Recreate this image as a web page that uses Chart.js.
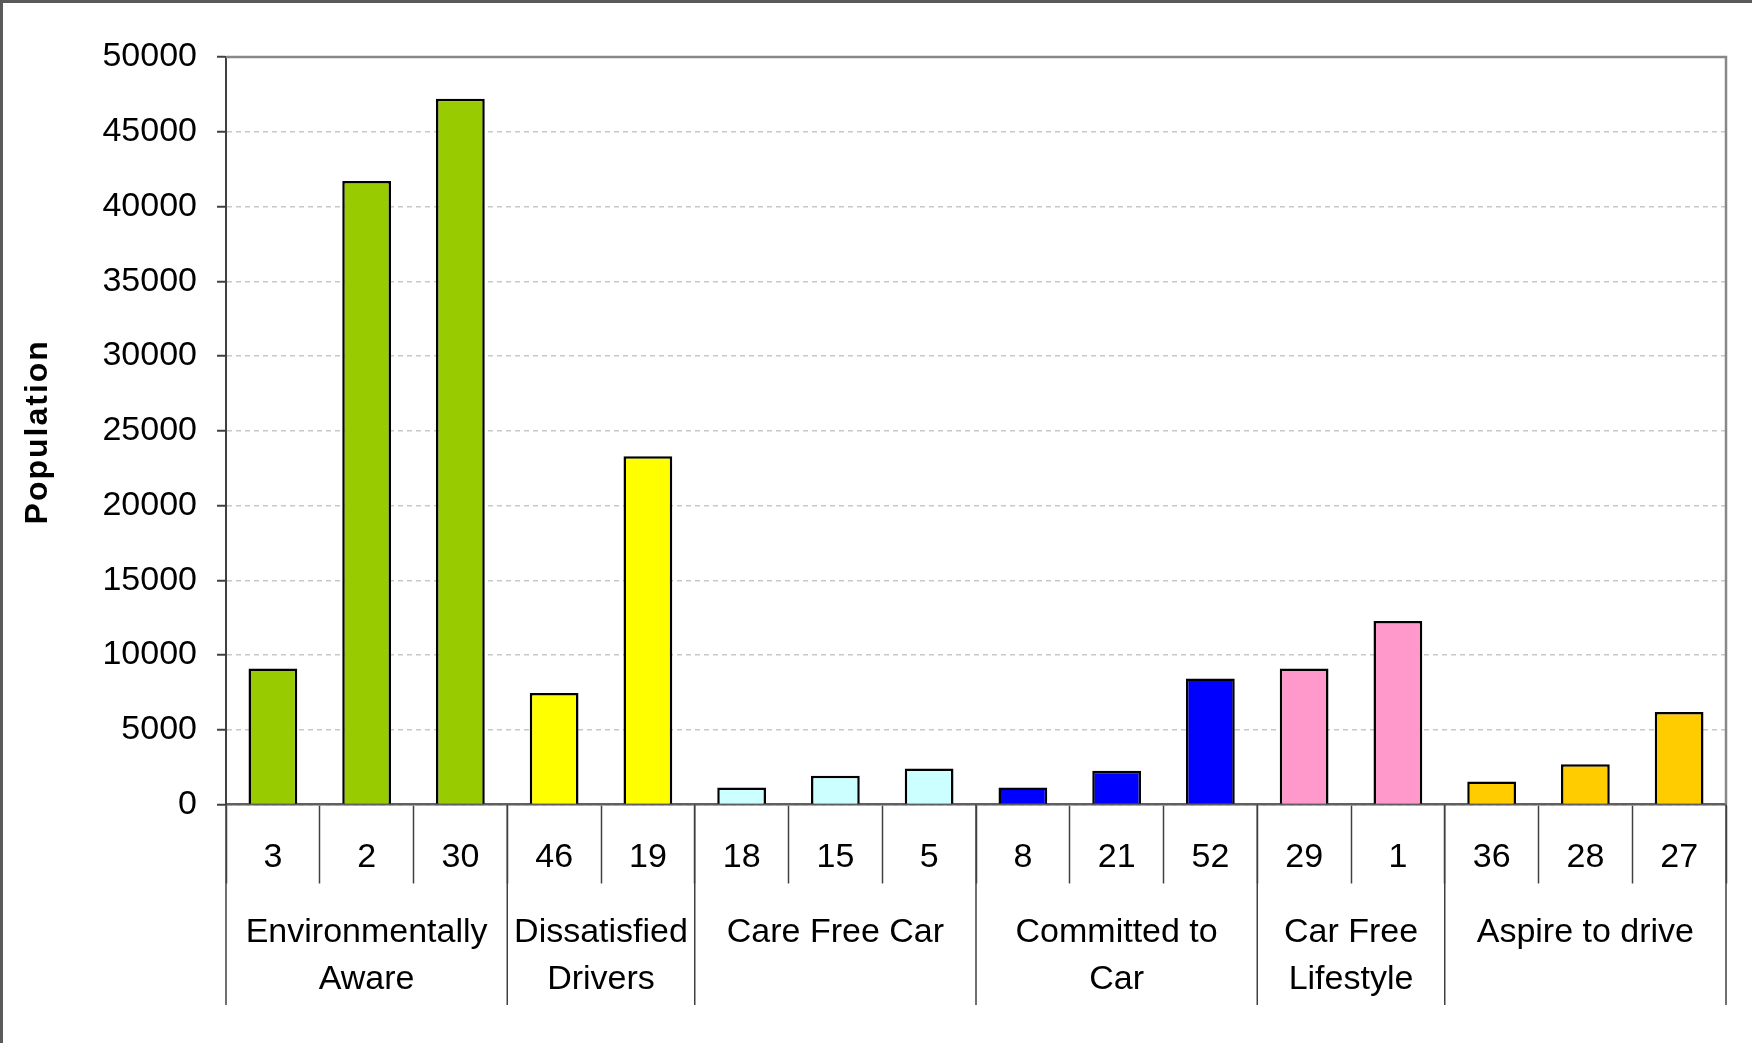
<!DOCTYPE html>
<html>
<head>
<meta charset="utf-8">
<title>Population by segment</title>
<script src="https://cdn.jsdelivr.net/npm/chart.js@4.4.1/dist/chart.umd.min.js"></script>
<style>
    html, body { margin: 0; padding: 0; background: #fff; }
    #wrap { position: relative; width: 1752px; height: 1043px; }
</style>
</head>
<body>
<div id="wrap"><canvas id="segmentChart"></canvas></div>
<script>
// Data
const codes = ['3', '2', '30', '46', '19', '18', '15', '5', '8', '21', '52', '29', '1', '36', '28', '27'];
const population = [9100, 41700, 47200, 7450, 23300, 1130, 1920, 2400, 1130, 2250, 8430, 9100, 12270, 1540, 2700, 6180];
const groupNames = [['Environmentally', 'Aware'], ['Dissatisfied', 'Drivers'], ['Care Free Car'], ['Committed to', 'Car'], ['Car Free', 'Lifestyle'], ['Aspire to drive']];
const groupSizes = [3, 2, 3, 3, 2, 3];
const groupColors = ['#99CC00', '#FFFF00', '#CCFFFF', '#0000FF', '#FF99CC', '#FFCC00'];
const yTicks = [0, 5000, 10000, 15000, 20000, 25000, 30000, 35000, 40000, 45000, 50000];
const yTitle = 'Population';

// One colour per bar, taken from its group
const barColors = [];
groupSizes.forEach((n, g) => {
    for (let i = 0; i < n; i++) barColors.push(groupColors[g]);
});

const FONT = "'Liberation Sans', Arial, sans-serif";
Chart.defaults.font.family = FONT;
Chart.defaults.color = '#000';

// White page, outer frame, plot frame, axis title, group labels and separators
const framePlugin = {
    id: 'frame',
    beforeDraw(chart) {
        const ctx = chart.ctx;
        ctx.save();
        ctx.fillStyle = '#fff';
        ctx.fillRect(0, 0, chart.width, chart.height);
        ctx.restore();
    },
    afterDraw(chart) {
        const ctx = chart.ctx;
        const area = chart.chartArea;
        const x = chart.scales.x;
        const half = (x.getPixelForValue(1) - x.getPixelForValue(0)) / 2;
        const sepBottom = 1005;

        ctx.save();
        // plot frame (top + right)
        ctx.strokeStyle = '#888';
        ctx.lineWidth = 2.5;
        ctx.beginPath();
        ctx.moveTo(area.left, area.top);
        ctx.lineTo(area.right, area.top);
        ctx.lineTo(area.right, area.bottom);
        ctx.stroke();

        // group separators and group names
        ctx.strokeStyle = '#404040';
        ctx.lineWidth = 1.5;
        ctx.fillStyle = '#000';
        ctx.font = '34px ' + FONT;
        ctx.textAlign = 'center';
        ctx.textBaseline = 'middle';
        let start = 0;
        groupSizes.forEach((n, g) => {
            const left = x.getPixelForValue(start) - half;
            const right = x.getPixelForValue(start + n - 1) + half;
            ctx.beginPath();
            ctx.moveTo(left, area.bottom);
            ctx.lineTo(left, sepBottom);
            ctx.stroke();
            if (g === groupSizes.length - 1) {
                ctx.beginPath();
                ctx.moveTo(right, area.bottom);
                ctx.lineTo(right, sepBottom);
                ctx.stroke();
            }
            groupNames[g].forEach((line, k) => {
                ctx.fillText(line, (left + right) / 2, area.bottom + 128 + k * 47.5);
            });
            start += n;
        });

        // y axis title, a little letter-spaced like the original
        ctx.save();
        ctx.translate(38, (area.top + area.bottom) / 2 + 1);
        ctx.rotate(-Math.PI / 2);
        ctx.font = 'bold 32px ' + FONT;
        ctx.letterSpacing = '2px';
        ctx.fillText(yTitle, 0, 0);
        ctx.restore();

        // outer border (top and left edges of the picture)
        ctx.strokeStyle = '#5a5a5a';
        ctx.lineWidth = 3;
        ctx.beginPath();
        ctx.moveTo(chart.width, 1.5);
        ctx.lineTo(1.5, 1.5);
        ctx.lineTo(1.5, chart.height);
        ctx.stroke();
        ctx.restore();
    }
};

const ctx = document.getElementById('segmentChart').getContext('2d');
const chart = new Chart(ctx, {
    type: 'bar',
    data: {
        labels: codes,
        datasets: [{
            label: 'Population',
            data: population,
            backgroundColor: barColors,
            borderColor: '#000',
            borderWidth: 2.5,
            borderSkipped: 'bottom',
            categoryPercentage: 1,
            barPercentage: 0.52
        }]
    },
    options: {
        responsive: true,
        maintainAspectRatio: false,
        animation: false,
        layout: { padding: { top: 57, right: 26, left: 0, bottom: 0 } },
        plugins: {
            legend: { display: false },
            tooltip: { enabled: false }
        },
        scales: {
            x: {
                offset: true,
                grid: {
                    offset: true,
                    drawOnChartArea: false,
                    drawTicks: true,
                    tickLength: 79,
                    tickColor: '#404040',
                    tickWidth: 1.5,
                    color: '#404040'
                },
                border: { display: true, color: '#606060', width: 2.5 },
                ticks: {
                    autoSkip: false,
                    maxRotation: 0,
                    padding: -46,
                    font: { size: 34 },
                    color: '#000'
                },
                afterFit: function(scale) {
                    scale.height = 238.5;
                    scale.paddingLeft = 0;
                    scale.paddingRight = 0;
                }
            },
            y: {
                min: 0,
                max: 50000,
                afterBuildTicks: function(scale) {
                    scale.ticks = yTicks.map(v => ({ value: v }));
                },
                grid: {
                    color: '#c8c8c8',
                    lineWidth: 1.5,
                    tickColor: '#404040',
                    tickLength: 9,
                    tickWidth: 2,
                    tickBorderDash: []
                },
                border: { display: true, color: '#404040', width: 2, dash: [5, 4] },
                ticks: {
                    padding: 20,
                    font: { size: 34 },
                    color: '#000',
                    callback: function(value) {
                        return String(value);
                    }
                },
                title: { display: false },
                afterFit: function(scale) {
                    scale.width = 226;
                    scale.paddingTop = 0;
                    scale.paddingBottom = 0;
                }
            }
        }
    },
    plugins: [framePlugin]
});
</script>
</body>
</html>
